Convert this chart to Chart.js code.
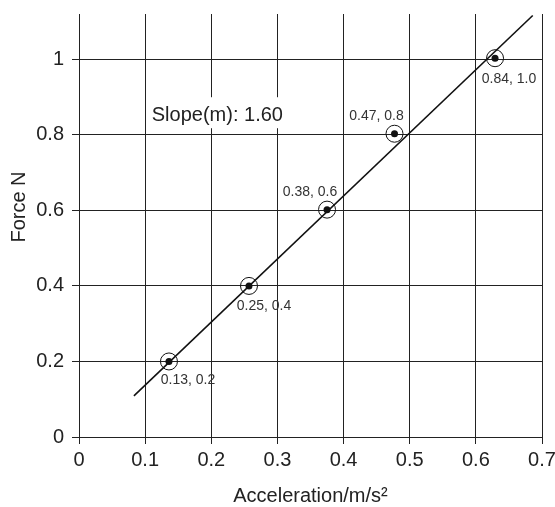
<!DOCTYPE html>
<html>
<head>
<meta charset="utf-8">
<script src="https://cdn.jsdelivr.net/npm/chart.js@4.4.1/dist/chart.umd.min.js"></script>
<style>
  html, body { margin: 0; padding: 0; background: #fff; }
  #wrap { width: 555px; height: 507px; }
</style>
</head>
<body>
<div id="wrap"><canvas id="forceChart" width="555" height="507"></canvas></div>
<script>
// Measured points (acceleration, force)
const accel = [0.136, 0.257, 0.375, 0.477, 0.629];
const force = [0.2, 0.4, 0.602, 0.803, 1.003];
const pointLabels = ['0.13, 0.2', '0.25, 0.4', '0.38, 0.6', '0.47, 0.8', '0.84, 1.0'];

// Best-fit line end points
const fitX = [0.083, 0.686];
const fitY = [0.109, 1.116];

const slopeText = 'Slope(m): 1.60';
const slopePos = [0.11, 0.852];

const xTicks = [0, 0.1, 0.2, 0.3, 0.4, 0.5, 0.6, 0.7];
const yTicks = [0, 0.2, 0.4, 0.6, 0.8, 1];

const yTitle = 'Force N';
const xTitle = 'Acceleration/m/s²';

const FONT = '"Liberation Sans", Arial, sans-serif';

// label offsets (px) relative to each point
const labelOffsets = [[19, 19], [15, 20], [-17, -17], [-18, -18], [14, 21]];

const annotations = {
  id: 'annotations',
  beforeDatasetsDraw(chart) {
    const ctx = chart.ctx;
    const xs = chart.scales.x;
    const ys = chart.scales.y;
    ctx.save();
    ctx.font = '20px ' + FONT;
    const x = xs.getPixelForValue(slopePos[0]);
    const y = ys.getPixelForValue(slopePos[1]);
    const w = ctx.measureText(slopeText).width;
    ctx.fillStyle = '#fff';
    ctx.fillRect(x - 4, y - 18, w + 8, 31);
    ctx.fillStyle = '#222';
    ctx.textAlign = 'left';
    ctx.textBaseline = 'middle';
    ctx.fillText(slopeText, x, y);
    ctx.restore();
  },
  afterDatasetsDraw(chart) {
    const ctx = chart.ctx;
    const xs = chart.scales.x;
    const ys = chart.scales.y;
    ctx.save();
    ctx.font = '14px ' + FONT;
    ctx.fillStyle = '#333';
    ctx.textAlign = 'center';
    ctx.textBaseline = 'middle';
    accel.forEach((a, i) => {
      const px = xs.getPixelForValue(a) + labelOffsets[i][0];
      const py = ys.getPixelForValue(force[i]) + labelOffsets[i][1];
      ctx.fillText(pointLabels[i], px, py);
    });
    ctx.restore();
  },
  afterDraw(chart) {
    // y axis title, sits a bit above the middle of the axis in the original
    const ctx = chart.ctx;
    ctx.save();
    ctx.font = '20px ' + FONT;
    ctx.fillStyle = '#222';
    ctx.textAlign = 'center';
    ctx.textBaseline = 'middle';
    ctx.translate(19, 207);
    ctx.rotate(-Math.PI / 2);
    ctx.fillText(yTitle, 0, 0);
    ctx.restore();
  }
};

const ctx = document.getElementById('forceChart').getContext('2d');
new Chart(ctx, {
  type: 'scatter',
  data: {
    datasets: [
      {
        label: 'fit',
        data: fitX.map((x, i) => ({ x: x, y: fitY[i] })),
        showLine: true,
        borderColor: '#111',
        borderWidth: 1.6,
        pointRadius: 0,
        fill: false
      },
      {
        label: 'rings',
        data: accel.map((x, i) => ({ x: x, y: force[i] })),
        pointRadius: 8.5,
        pointBackgroundColor: 'rgba(255,255,255,0)',
        pointBorderColor: '#111',
        pointBorderWidth: 1
      },
      {
        label: 'dots',
        data: accel.map((x, i) => ({ x: x, y: force[i] })),
        pointRadius: 3.5,
        pointBackgroundColor: '#111',
        pointBorderColor: '#111',
        pointBorderWidth: 0
      }
    ]
  },
  options: {
    responsive: false,
    animation: false,
    layout: { padding: { top: 14, right: 13, left: 0, bottom: 0 } },
    plugins: {
      legend: { display: false },
      tooltip: { enabled: false }
    },
    scales: {
      x: {
        type: 'linear',
        min: 0,
        max: 0.7,
        afterFit: (scale) => {
          scale.height = 70;
          scale.paddingLeft = 0;
          scale.paddingRight = 0;
        },
        afterBuildTicks: (scale) => { scale.ticks = xTicks.map(v => ({ value: v })); },
        ticks: {
          color: '#222',
          font: { size: 20, family: FONT },
          padding: 4,
          maxRotation: 0,
          callback: (v) => String(v)
        },
        grid: { color: '#222', lineWidth: 1, tickLength: 7 },
        border: { color: '#222', width: 1 },
        title: {
          display: true,
          text: xTitle,
          color: '#222',
          font: { size: 20, family: FONT, lineHeight: 1.1 },
          padding: { top: 4, bottom: 0 }
        }
      },
      y: {
        type: 'linear',
        min: 0,
        max: 1.12,
        afterFit: (scale) => {
          scale.width = 79;
          scale.paddingTop = 0;
          scale.paddingBottom = 0;
        },
        afterBuildTicks: (scale) => { scale.ticks = yTicks.map(v => ({ value: v })); },
        ticks: {
          color: '#222',
          font: { size: 20, family: FONT },
          padding: 8,
          callback: (v) => String(v)
        },
        grid: { color: '#222', lineWidth: 1, tickLength: 7 },
        border: { color: '#222', width: 1 },
        title: { display: false }
      }
    }
  },
  plugins: [annotations]
});
</script>
</body>
</html>
